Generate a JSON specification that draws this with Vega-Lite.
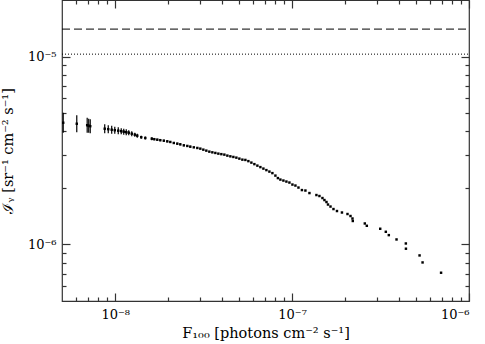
{
  "$schema": "https://vega.github.io/schema/vega-lite/v6.json",
  "width": 407,
  "height": 301,
  "autosize": "none",
  "padding": {"left": 62, "top": 0, "right": 16, "bottom": 43},
  "background": "white",
  "config": {
    "view": {"stroke": "#333333", "strokeWidth": 1.2},
    "axis": {
      "labelFont": "DejaVu Serif",
      "titleFont": "DejaVu Serif",
      "labelFontSize": 13,
      "titleFontSize": 14.5,
      "titleFontWeight": "normal",
      "domain": false,
      "grid": false,
      "tickColor": "#333333",
      "tickWidth": 1.2,
      "labelColor": "black",
      "titleColor": "black"
    }
  },
  "datasets": {
    "pts": [
      {"f": 5.08e-9, "i": 4.445e-6, "lo": 3.933e-6, "hi": 5.02e-6},
      {"f": 6.06e-9, "i": 4.39e-6, "lo": 3.958e-6, "hi": 4.873e-6},
      {"f": 6.94e-9, "i": 4.311e-6, "lo": 3.934e-6, "hi": 4.725e-6},
      {"f": 7.08e-9, "i": 4.285e-6, "lo": 3.934e-6, "hi": 4.669e-6},
      {"f": 7.22e-9, "i": 4.259e-6, "lo": 3.909e-6, "hi": 4.64e-6},
      {"f": 8.72e-9, "i": 4.13e-6, "lo": 3.909e-6, "hi": 4.364e-6},
      {"f": 9.13e-9, "i": 4.106e-6, "lo": 3.91e-6, "hi": 4.311e-6},
      {"f": 9.55e-9, "i": 4.08e-6, "lo": 3.886e-6, "hi": 4.284e-6},
      {"f": 9.94e-9, "i": 4.056e-6, "lo": 3.886e-6, "hi": 4.233e-6},
      {"f": 1.04e-8, "i": 4.031e-6, "lo": 3.862e-6, "hi": 4.207e-6},
      {"f": 1.081e-8, "i": 4.007e-6, "lo": 3.863e-6, "hi": 4.156e-6},
      {"f": 1.117e-8, "i": 3.982e-6, "lo": 3.839e-6, "hi": 4.13e-6},
      {"f": 1.154e-8, "i": 3.958e-6, "lo": 3.815e-6, "hi": 4.105e-6},
      {"f": 1.192e-8, "i": 3.934e-6, "lo": 3.815e-6, "hi": 4.056e-6},
      {"f": 1.24e-8, "i": 3.886e-6, "lo": 3.769e-6, "hi": 4.007e-6},
      {"f": 1.29e-8, "i": 3.839e-6, "lo": 3.746e-6, "hi": 3.934e-6},
      {"f": 1.332e-8, "i": 3.792e-6, "lo": 3.7e-6, "hi": 3.886e-6},
      {"f": 1.403e-8, "i": 3.723e-6, "lo": 3.655e-6, "hi": 3.792e-6},
      {"f": 1.479e-8, "i": 3.686e-6, "lo": 3.62e-6, "hi": 3.755e-6},
      {"f": 1.609e-8, "i": 3.655e-6, "lo": 3.588e-6, "hi": 3.723e-6},
      {"f": 1.663e-8, "i": 3.633e-6, "lo": 3.589e-6, "hi": 3.678e-6},
      {"f": 1.729e-8, "i": 3.611e-6, "lo": 3.567e-6, "hi": 3.655e-6},
      {"f": 1.798e-8, "i": 3.589e-6, "lo": 3.545e-6, "hi": 3.633e-6},
      {"f": 1.882e-8, "i": 3.567e-6, "lo": 3.524e-6, "hi": 3.611e-6},
      {"f": 1.969e-8, "i": 3.537e-6, "lo": 3.494e-6, "hi": 3.581e-6},
      {"f": 2.048e-8, "i": 3.511e-6, "lo": 3.468e-6, "hi": 3.554e-6},
      {"f": 2.143e-8, "i": 3.468e-6, "lo": 3.426e-6, "hi": 3.511e-6},
      {"f": 2.243e-8, "i": 3.439e-6, "lo": 3.397e-6, "hi": 3.481e-6},
      {"f": 2.333e-8, "i": 3.41e-6, "lo": 3.369e-6, "hi": 3.452e-6},
      {"f": 2.442e-8, "i": 3.368e-6, "lo": 3.327e-6, "hi": 3.409e-6},
      {"f": 2.556e-8, "i": 3.344e-6, "lo": 3.303e-6, "hi": 3.385e-6},
      {"f": 2.657e-8, "i": 3.315e-6, "lo": 3.275e-6, "hi": 3.356e-6},
      {"f": 2.781e-8, "i": 3.287e-6},
      {"f": 2.911e-8, "i": 3.262e-6},
      {"f": 3.027e-8, "i": 3.235e-6},
      {"f": 3.148e-8, "i": 3.195e-6},
      {"f": 3.273e-8, "i": 3.157e-6},
      {"f": 3.404e-8, "i": 3.118e-6},
      {"f": 3.54e-8, "i": 3.092e-6},
      {"f": 3.681e-8, "i": 3.069e-6},
      {"f": 3.828e-8, "i": 3.043e-6},
      {"f": 3.98e-8, "i": 3.024e-6},
      {"f": 4.139e-8, "i": 3.006e-6},
      {"f": 4.304e-8, "i": 2.97e-6},
      {"f": 4.476e-8, "i": 2.944e-6},
      {"f": 4.654e-8, "i": 2.922e-6},
      {"f": 4.84e-8, "i": 2.897e-6},
      {"f": 5.032e-8, "i": 2.862e-6},
      {"f": 5.233e-8, "i": 2.827e-6},
      {"f": 5.441e-8, "i": 2.817e-6},
      {"f": 5.658e-8, "i": 2.776e-6},
      {"f": 5.884e-8, "i": 2.726e-6},
      {"f": 6.118e-8, "i": 2.676e-6},
      {"f": 6.362e-8, "i": 2.627e-6},
      {"f": 6.616e-8, "i": 2.58e-6},
      {"f": 6.88e-8, "i": 2.533e-6},
      {"f": 7.154e-8, "i": 2.487e-6},
      {"f": 7.439e-8, "i": 2.442e-6},
      {"f": 7.735e-8, "i": 2.397e-6},
      {"f": 8.044e-8, "i": 2.325e-6},
      {"f": 8.309e-8, "i": 2.255e-6},
      {"f": 8.584e-8, "i": 2.214e-6},
      {"f": 8.927e-8, "i": 2.188e-6},
      {"f": 9.283e-8, "i": 2.161e-6},
      {"f": 9.654e-8, "i": 2.135e-6},
      {"f": 1.004e-7, "i": 2.083e-6},
      {"f": 1.044e-7, "i": 2.058e-6},
      {"f": 1.086e-7, "i": 2.008e-6},
      {"f": 1.136e-7, "i": 1.947e-6},
      {"f": 1.189e-7, "i": 1.936e-6},
      {"f": 1.253e-7, "i": 1.877e-6},
      {"f": 1.372e-7, "i": 1.832e-6},
      {"f": 1.427e-7, "i": 1.81e-6},
      {"f": 1.484e-7, "i": 1.766e-6},
      {"f": 1.523e-7, "i": 1.723e-6},
      {"f": 1.564e-7, "i": 1.682e-6},
      {"f": 1.595e-7, "i": 1.631e-6},
      {"f": 1.648e-7, "i": 1.591e-6},
      {"f": 1.713e-7, "i": 1.543e-6},
      {"f": 1.793e-7, "i": 1.506e-6},
      {"f": 1.913e-7, "i": 1.479e-6},
      {"f": 2.056e-7, "i": 1.452e-6},
      {"f": 2.138e-7, "i": 1.417e-6},
      {"f": 2.194e-7, "i": 1.374e-6},
      {"f": 2.203e-7, "i": 1.333e-6},
      {"f": 2.576e-7, "i": 1.293e-6},
      {"f": 2.644e-7, "i": 1.257e-6},
      {"f": 3.148e-7, "i": 1.212e-6},
      {"f": 3.386e-7, "i": 1.168e-6},
      {"f": 3.521e-7, "i": 1.121e-6},
      {"f": 3.893e-7, "i": 1.063e-6},
      {"f": 4.395e-7, "i": 1.012e-6},
      {"f": 4.4e-7, "i": 9.49e-7},
      {"f": 5.254e-7, "i": 8.74e-7},
      {"f": 5.464e-7, "i": 8.02e-7},
      {"f": 6.952e-7, "i": 7.07e-7}
    ],
    "dashed": [{"f": 5e-9, "i": 1.4e-5}, {"f": 1e-6, "i": 1.4e-5}],
    "dotted": [{"f": 5e-9, "i": 1.03e-5}, {"f": 1e-6, "i": 1.03e-5}]
  },
  "layer": [
    {
      "data": {"name": "dashed"},
      "mark": {"type": "line", "color": "black", "strokeWidth": 1, "strokeDash": [8, 4]},
      "encoding": {
        "x": {"field": "f", "type": "quantitative", "scale": {"type": "log", "domain": [5e-9, 1e-6], "nice": false},
          "axis": {"orient": "top", "values": [1e-8, 1e-7, 1e-6], "tickSize": -8, "labels": false, "title": null}},
        "y": {"field": "i", "type": "quantitative", "scale": {"type": "log", "domain": [5e-7, 2e-5], "nice": false},
          "axis": {"orient": "right", "values": [1e-6, 1e-5], "tickSize": -8, "labels": false, "title": null}}
      }
    },
    {
      "data": {"name": "dotted"},
      "mark": {"type": "line", "color": "black", "strokeWidth": 1, "strokeDash": [1, 2]},
      "encoding": {
        "x": {"field": "f", "type": "quantitative", "scale": {"type": "log", "domain": [5e-9, 1e-6], "nice": false},
          "axis": {"orient": "top", "values": [6e-9, 7e-9, 8e-9, 9e-9, 2e-8, 3e-8, 4e-8, 5e-8, 6e-8, 7e-8, 8e-8, 9e-8, 2e-7, 3e-7, 4e-7, 5e-7, 6e-7, 7e-7, 8e-7, 9e-7], "tickSize": -4, "labels": false, "title": null}},
        "y": {"field": "i", "type": "quantitative", "scale": {"type": "log", "domain": [5e-7, 2e-5], "nice": false},
          "axis": {"orient": "right", "values": [6e-7, 7e-7, 8e-7, 9e-7, 2e-6, 3e-6, 4e-6, 5e-6, 6e-6, 7e-6, 8e-6, 9e-6], "tickSize": -4, "labels": false, "title": null}}
      }
    },
    {
      "data": {"name": "pts"},
      "transform": [{"filter": "isValid(datum.lo)"}],
      "mark": {"type": "rule", "color": "black", "strokeWidth": 1.2},
      "encoding": {
        "x": {"field": "f", "type": "quantitative", "scale": {"type": "log", "domain": [5e-9, 1e-6], "nice": false},
          "axis": {"orient": "bottom", "values": [1e-8, 1e-7, 1e-6], "tickSize": -8, "labelPadding": 15,
            "labelExpr": "'10' + (round(log(datum.value)/LN10) == -8 ? '⁻⁸' : round(log(datum.value)/LN10) == -7 ? '⁻⁷' : '⁻⁶')",
            "title": "F₁₀₀ [photons cm⁻² s⁻¹]", "titlePadding": 5}},
        "y": {"field": "lo", "type": "quantitative", "scale": {"type": "log", "domain": [5e-7, 2e-5], "nice": false},
          "axis": {"orient": "left", "values": [1e-6, 1e-5], "tickSize": -8, "labelPadding": 14,
            "labelExpr": "'10' + (round(log(datum.value)/LN10) == -5 ? '⁻⁵' : '⁻⁶')",
            "title": "ℐᵧ [sr⁻¹ cm⁻² s⁻¹]", "titlePadding": 12}},
        "y2": {"field": "hi"}
      }
    },
    {
      "data": {"name": "pts"},
      "mark": {"type": "square", "color": "black", "opacity": 1, "size": 6},
      "encoding": {
        "x": {"field": "f", "type": "quantitative", "scale": {"type": "log", "domain": [5e-9, 1e-6], "nice": false},
          "axis": {"orient": "bottom", "values": [6e-9, 7e-9, 8e-9, 9e-9, 2e-8, 3e-8, 4e-8, 5e-8, 6e-8, 7e-8, 8e-8, 9e-8, 2e-7, 3e-7, 4e-7, 5e-7, 6e-7, 7e-7, 8e-7, 9e-7], "tickSize": -4, "labels": false, "title": null}},
        "y": {"field": "i", "type": "quantitative", "scale": {"type": "log", "domain": [5e-7, 2e-5], "nice": false},
          "axis": {"orient": "left", "values": [6e-7, 7e-7, 8e-7, 9e-7, 2e-6, 3e-6, 4e-6, 5e-6, 6e-6, 7e-6, 8e-6, 9e-6], "tickSize": -4, "labels": false, "title": null}}
      }
    }
  ],
  "resolve": {"axis": {"x": "independent", "y": "independent"}}
}
